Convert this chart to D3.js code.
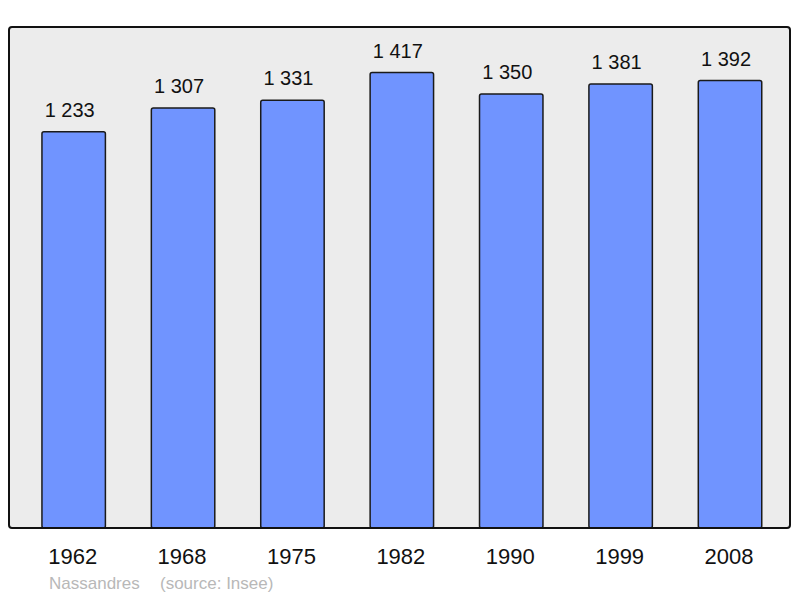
<!DOCTYPE html>
<html>
<head>
<meta charset="utf-8">
<script src="https://cdn.jsdelivr.net/npm/d3@7"></script>
<style>
  html, body { margin: 0; padding: 0; background: #ffffff; }
  svg { display: block; font-family: "Liberation Sans", Arial, sans-serif; }
</style>
</head>
<body>
<svg id="chart" width="800" height="598"></svg>
<script>
const years = ["1962", "1968", "1975", "1982", "1990", "1999", "2008"];
const population = [1233, 1307, 1331, 1417, 1350, 1381, 1392];
const valueLabels = ["1 233", "1 307", "1 331", "1 417", "1 350", "1 381", "1 392"];
const townName = "Nassandres";
const sourceText = "(source: Insee)";

const svg = d3.select("#chart");

const plot = { left: 9, top: 27, right: 790, bottom: 528 };

const x = d3.scaleBand()
  .domain(years)
  .range([14.6, 789.1])
  .paddingInner(0.42)
  .paddingOuter(0.25);

const y = d3.scaleLinear()
  .domain([0, d3.max(population) * 1.1])
  .range([plot.bottom, plot.top]);

// background panel
svg.append("rect")
  .attr("x", plot.left)
  .attr("y", plot.top)
  .attr("width", plot.right - plot.left)
  .attr("height", plot.bottom - plot.top)
  .attr("rx", 3)
  .attr("fill", "#ececec")
  .attr("stroke", "none");

// bars
svg.append("g").selectAll("rect")
  .data(years)
  .join("rect")
  .attr("x", d => x(d))
  .attr("y", (d, i) => y(population[i]))
  .attr("width", x.bandwidth())
  .attr("height", (d, i) => y(0) - y(population[i]))
  .attr("rx", 2)
  .attr("fill", "#7094ff")
  .attr("stroke", "#1a1a1a")
  .attr("stroke-width", 1.5);

// panel border on top
svg.append("rect")
  .attr("x", plot.left)
  .attr("y", plot.top)
  .attr("width", plot.right - plot.left)
  .attr("height", plot.bottom - plot.top)
  .attr("rx", 3)
  .attr("fill", "none")
  .attr("stroke", "#111")
  .attr("stroke-width", 2);

// value labels
svg.append("g").selectAll("text")
  .data(years)
  .join("text")
  .attr("x", d => x(d) + x.bandwidth() / 2 - 4)
  .attr("y", (d, i) => y(population[i]) - 15)
  .attr("text-anchor", "middle")
  .attr("font-size", 20)
  .attr("fill", "#111")
  .text((d, i) => valueLabels[i]);

// x axis labels
const xAxis = d3.axisBottom(x).tickSize(0).tickPadding(0);
const gx = svg.append("g")
  .attr("transform", `translate(0, ${plot.bottom})`)
  .call(xAxis);
gx.select(".domain").remove();
gx.selectAll("text")
  .attr("dy", null)
  .attr("x", -1)
  .attr("y", 36)
  .attr("font-size", 22)
  .attr("font-family", "Liberation Sans, Arial, sans-serif")
  .attr("fill", "#111");

// footer
svg.append("text")
  .attr("x", 49)
  .attr("y", 589)
  .attr("font-size", 17)
  .attr("fill", "#b8b8b8")
  .text(townName);
svg.append("text")
  .attr("x", 160)
  .attr("y", 589)
  .attr("font-size", 17)
  .attr("fill", "#b8b8b8")
  .text(sourceText);
</script>
</body>
</html>
